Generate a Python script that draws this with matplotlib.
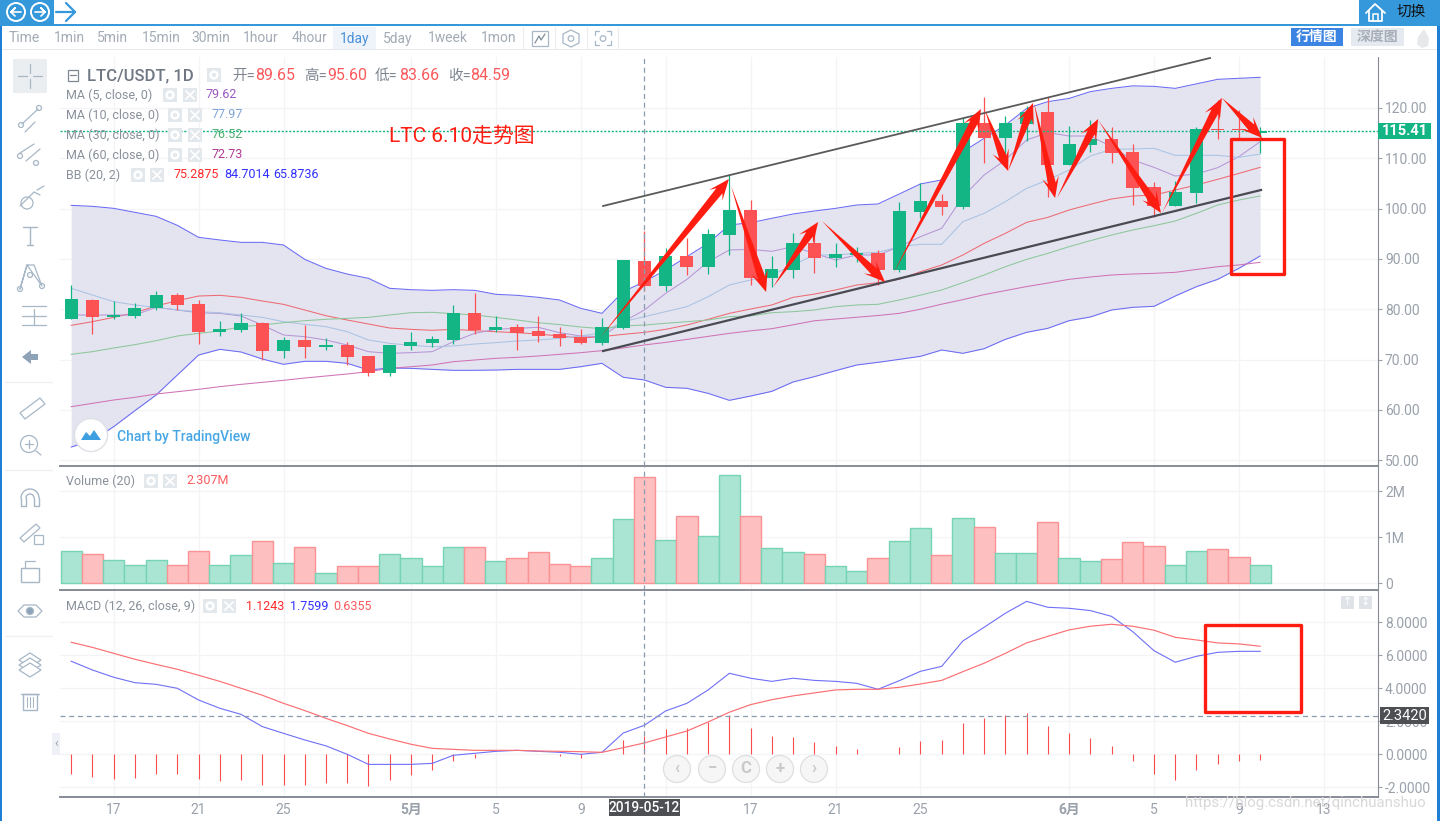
import matplotlib
matplotlib.use("Agg")
import matplotlib.pyplot as plt
import numpy as np
from matplotlib.patches import Circle, Polygon, Rectangle

plt.rcParams['font.family'] = ['Roboto', 'Noto Sans CJK SC', 'DejaVu Sans']

# one candle per day, 2019-04-15 .. 2019-06-10
candle_open = [78.12, 81.83, 78.45, 78.65, 80.24, 82.82, 81.03, 75.47, 75.87, 77.26, 71.69, 73.88, 72.48, 72.88,
               70.7, 67.32, 72.68, 73.28, 73.88, 79.24, 75.87, 76.46, 75.67, 75.07, 74.47, 73.28, 76.27, 89.65,
               84.61, 90.58, 88.39, 94.75, 99.72, 86.2, 87.79, 93.16, 90.18, 90.78, 91.17, 87.79, 99.33, 101.51,
               100.32, 117.02, 114.04, 116.8, 119.2, 108.67, 112.64, 113.84, 111.25, 104.3, 100.5, 103.1, 115.8,
               115.8, 115.1]
candle_close = [82.03, 78.45, 78.85, 80.24, 82.82, 80.84, 75.47, 76.06, 77.26, 71.69, 73.88, 72.48, 72.88, 70.5,
                67.32, 72.88, 73.48, 74.07, 79.24, 75.87, 76.46, 75.27, 74.67, 74.27, 73.28, 76.46, 89.78, 84.59,
                90.58, 88.39, 94.95, 99.72, 86.2, 87.99, 93.16, 90.18, 90.98, 91.17, 87.79, 99.52, 101.51, 100.32,
                117.02, 114.04, 117.02, 119.2, 108.67, 112.84, 113.84, 111.05, 104.1, 100.5, 103.3, 115.8, 115.6,
                115.6, 115.41]
candle_high = [84.81, 82.03, 81.63, 81.23, 83.62, 83.22, 81.83, 77.65, 79.24, 77.46, 74.47, 76.86, 74.27, 73.48,
               70.7, 72.88, 75.47, 74.67, 80.84, 83.22, 78.65, 77.06, 78.65, 76.46, 76.06, 78.25, 89.78, 95.6,
               92.17, 94.16, 95.95, 106.88, 101.71, 90.58, 95.15, 95.75, 93.16, 92.37, 91.77, 101.31, 105.1, 103.0,
               118.0, 122.19, 118.4, 120.3, 122.2, 116.4, 117.6, 116.2, 112.84, 105.3, 105.5, 116.2, 121.6, 119.6,
               116.2]
candle_low = [78.12, 75.07, 78.05, 78.25, 79.84, 79.84, 73.08, 74.67, 75.47, 69.9, 70.3, 70.3, 71.89, 68.91,
              66.72, 66.72, 71.89, 72.48, 73.08, 75.07, 75.47, 71.89, 73.48, 72.68, 73.08, 72.88, 76.13, 83.66,
              83.62, 86.8, 87.0, 90.78, 84.81, 84.42, 86.2, 87.2, 88.39, 89.39, 84.81, 87.4, 98.07, 98.73,
              99.92, 109.07, 108.3, 113.4, 102.4, 108.67, 111.25, 109.07, 100.7, 98.4, 100.5, 101.1, 113.84, 114.0,
              111.1]

ma5 = [78.85, 78.85, 78.85, 78.85, 80.37, 79.84, 79.3, 79.17, 78.65, 76.86, 74.87, 74.54, 73.88, 72.88,
       71.56, 71.23, 71.36, 71.56, 73.55, 75.2, 76.0, 76.2, 76.4, 75.33, 74.67, 74.54, 77.52, 79.84,
       83.16, 85.94, 89.45, 91.77, 91.9, 91.5, 92.43, 91.1, 89.78, 90.78, 90.78, 92.43, 94.42, 96.08,
       102.37, 106.68, 109.66, 113.64, 115.1, 114.43, 114.43, 112.31, 109.66, 108.2, 106.48, 106.88, 108.14,
       110.33, 113.3]
ma10 = [84.15, 82.82, 81.5, 80.84, 80.37, 79.84, 79.5, 79.3, 78.85, 78.38, 77.52, 76.99, 76.53, 75.53,
        73.88, 73.21, 72.82, 72.55, 72.68, 73.08, 73.35, 73.68, 73.88, 74.21, 74.67, 75.33, 77.52, 78.52,
        79.51, 80.5, 82.49, 84.81, 85.81, 86.8, 88.79, 90.78, 90.78, 91.11, 91.31, 92.43, 92.9, 92.9,
        97.4, 99.06, 101.38, 104.03, 105.69, 107.67, 110.46, 111.78, 111.85, 111.98, 110.59, 110.59, 110.59,
        110.19, 110.85]
ma30 = [71.03, 71.56, 72.29, 72.95, 73.74, 74.67, 75.2, 75.67, 76.53, 76.86, 77.32, 77.72, 77.99, 78.18,
        78.38, 78.85, 79.31, 79.38, 79.11, 78.85, 78.38, 77.85, 77.32, 76.93, 76.46, 76.13, 76.66, 76.86,
        77.2, 77.52, 77.85, 78.52, 78.65, 79.31, 79.51, 79.84, 80.5, 80.84, 80.97, 81.83, 82.8, 83.82,
        85.28, 86.8, 88.45, 89.91, 91.1, 92.43, 93.62, 94.75, 95.75, 96.6, 97.53, 99.06, 100.72, 101.71, 102.5]
ma60 = [60.62, 61.28, 61.95, 62.48, 63.14, 63.6, 64.07, 64.6, 65.06, 65.46, 65.86, 66.32, 66.72, 67.12,
        67.58, 68.24, 68.57, 68.91, 69.57, 69.9, 70.23, 70.43, 70.7, 71.03, 71.36, 71.76, 72.3, 72.9,
        73.4, 74.0, 74.6, 75.2, 75.7, 76.13, 76.9, 77.7, 78.05, 78.4, 78.75, 79.18, 80.0, 81.0,
        81.9, 82.9, 83.7, 84.5, 85.2, 85.94, 86.4, 86.8, 87.0, 87.13, 87.33, 87.9, 88.45, 88.8, 89.32]
bb_basis = [76.79, 77.52, 78.38, 79.31, 80.64, 81.7, 82.62, 82.76, 82.36, 81.63, 80.97, 79.84, 78.71, 77.85,
            77.06, 76.26, 76.0, 75.8, 76.0, 75.73, 75.53, 75.33, 75.07, 74.67, 74.27, 74.54, 75.0, 75.4,
            76.0, 76.86, 77.99, 79.18, 80.04, 80.84, 82.36, 83.0, 83.82, 84.81, 85.28, 85.94, 87.46, 88.79,
            90.78, 93.09, 95.08, 97.27, 98.26, 99.72, 100.85, 101.91, 102.5, 102.7, 103.7, 104.69, 105.82, 107.0,
            108.2]
bb_upper = [100.65, 100.45, 100.05, 99.26, 98.46, 96.67, 94.29, 93.76, 93.29, 93.29, 92.76, 89.91, 88.12, 86.99,
            86.14, 84.15, 83.88, 83.75, 83.88, 83.75, 82.96, 82.76, 82.36, 81.83, 80.17, 79.18, 83.49, 85.48,
            87.79, 90.45, 93.1, 96.74, 97.2, 98.07, 98.93, 99.52, 100.05, 100.72, 100.92, 102.9, 104.9, 105.7,
            111.3, 113.97, 116.6, 119.9, 121.26, 121.9, 123.25, 123.9, 124.4, 124.3, 123.9, 124.8, 125.7, 125.9,
            126.1]
bb_lower = [52.6, 53.9, 56.65, 59.83, 62.94, 66.92, 70.89, 72.02, 71.49, 70.1, 69.04, 69.64, 69.64, 69.24,
            67.91, 68.31, 68.24, 68.04, 67.85, 67.85, 67.91, 68.04, 68.04, 68.04, 68.57, 69.24, 66.46, 65.93,
            64.47, 64.27, 63.27, 61.88, 62.74, 63.67, 65.53, 66.59, 67.78, 68.91, 69.44, 70.03, 70.63, 71.89,
            71.23, 72.15, 74.01, 75.4, 76.2, 77.72, 78.45, 79.84, 80.37, 80.57, 82.62, 84.48, 85.94, 88.13, 90.58]

volume_m = [0.70, 0.63, 0.50, 0.40, 0.50, 0.40, 0.71, 0.40, 0.61, 0.91, 0.45, 0.78, 0.22, 0.37, 0.37, 0.63, 0.56,
            0.37, 0.78, 0.78, 0.48, 0.56, 0.67, 0.41, 0.37, 0.56, 1.39, 2.307, 0.95, 1.47, 1.02, 2.36, 1.47, 0.76,
            0.69, 0.63, 0.37, 0.26, 0.54, 0.93, 1.21, 0.61, 1.43, 1.23, 0.65, 0.65, 1.34, 0.56, 0.48, 0.52, 0.89,
            0.82, 0.39, 0.71, 0.74, 0.58, 0.39]

macd_hist = [-1.19, -1.37, -1.49, -1.43, -1.19, -1.19, -1.49, -1.62, -1.56, -1.86, -1.86, -1.86, -1.74, -1.74,
             -1.92, -1.56, -1.25, -0.95, -0.40, -0.22, 0.0, 0.0, 0.0, -0.1, -0.2, 0.02, 0.87, 1.1243, 1.54, 1.6,
             1.98, 2.38, 1.6, 1.11, 1.05, 0.75, 0.5, 0.32, 0.0, 0.44, 0.81, 0.87, 1.9, 2.2, 2.38, 2.5, 1.72, 1.29,
             0.99, 0.51, -0.4, -1.19, -1.56, -0.95, -0.59, -0.4, -0.34]
macd_line = [5.64, 5.11, 4.67, 4.34, 4.24, 4.0, 3.29, 2.79, 2.42, 1.68, 1.27, 0.87, 0.51, 0.0, -0.61, -0.61, -0.61,
             -0.55, -0.06, 0.06, 0.18, 0.24, 0.18, 0.12, 0.0, 0.12, 1.29, 1.76, 2.63, 3.09, 3.9, 4.91, 4.61, 4.42,
             4.61, 4.48, 4.42, 4.3, 3.94, 4.46, 5.03, 5.33, 6.87, 7.7, 8.55, 9.27, 8.91, 8.85, 8.71, 8.36, 7.43,
             6.28, 5.58, 5.94, 6.18, 6.24, 6.24]
macd_signal = [6.79, 6.48, 6.12, 5.76, 5.45, 5.15, 4.79, 4.42, 4.0, 3.58, 3.09, 2.65, 2.18, 1.74, 1.27, 0.93, 0.61,
               0.36, 0.3, 0.24, 0.24, 0.24, 0.2, 0.18, 0.16, 0.12, 0.4, 0.69, 1.05, 1.41, 1.96, 2.55, 3.01, 3.31,
               3.54, 3.72, 3.9, 3.94, 3.94, 4.06, 4.26, 4.48, 5.01, 5.52, 6.12, 6.75, 7.15, 7.54, 7.76, 7.88, 7.76,
               7.52, 7.09, 6.93, 6.75, 6.69, 6.55]

date_ticks = [2, 6, 10, 16, 20, 24, 28, 32, 36, 40, 47, 51, 55, 59]
date_labels = ['17', '21', '25', '5月', '5', '9', '', '17', '21', '25', '6月', '5', '9', '13']
price_ticks = [50, 60, 70, 80, 90, 100, 110, 120]
volume_ticks = [0, 1, 2]
volume_labels = ['0', '1M', '2M']
macd_ticks = [-2, 0, 2, 4, 6, 8]
last_price = 115.41
crosshair_day = 27
crosshair_macd = 2.342

# red arrows (day, price) drawn on the price pane
arrow_from_day = [24.9, 31.08, 33.06, 35.36, 38.71, 43.04, 44.13, 45.35, 46.43, 48.37, 51.38, 54.2]
arrow_from_price = [74.27, 104.49, 84.41, 97.53, 87.0, 119.6, 107.47, 120.99, 102.1, 117.61, 99.13, 121.99]
arrow_to_day = [30.98, 32.73, 35.18, 38.33, 42.85, 44.13, 45.3, 46.34, 48.37, 51.33, 54.2, 56.09]
arrow_to_price = [105.88, 83.42, 97.34, 85.41, 119.8, 107.47, 120.99, 102.1, 117.81, 99.13, 121.99, 114.04]

GREEN = '#14b585'
RED = '#fc5254'
GREY = '#9aa1ab'
ICON = '#a7b7c6'
BLUE = '#3498db'

days = np.arange(len(candle_open))
W, H = 1440, 821
fig = plt.figure(figsize=(14.4, 8.21), dpi=100, facecolor='white')


def add_pane(top, bottom, ylim):
    ax = fig.add_axes([60 / W, 1 - bottom / H, (1378 - 60) / W, (bottom - top) / H])
    ax.set_xlim(-0.5276, 61.55)
    ax.set_ylim(*ylim)
    ax.yaxis.tick_right()
    ax.set_xticks(date_ticks)
    ax.tick_params(axis='both', colors=GREY, labelsize=10, length=3, width=0.8, pad=2)
    ax.tick_params(axis='x', length=0, labelbottom=False)
    ax.grid(True, color='#f4f4f6', lw=0.9)
    ax.set_axisbelow(True)
    for s in ['left', 'top']:
        ax.spines[s].set_visible(False)
    ax.spines['right'].set_color('#868b96')
    ax.spines['bottom'].set_color('#868b96')
    ax.spines['bottom'].set_linewidth(1.4)
    return ax


ax_p = add_pane(51, 466, (48.83, 131.33))
ax_v = add_pane(467, 590, (-0.146, 2.528))
ax_m = add_pane(591, 797, (-2.588, 9.897))

# price pane
ax_p.set_yticks(price_ticks)
ax_p.set_yticklabels(['%.2f' % p for p in price_ticks])
ax_p.fill_between(days, bb_lower, bb_upper, color='#e4e4f0', lw=0, zorder=1)
ax_p.plot(days, bb_upper, color='#6a6af5', lw=0.75, zorder=2)
ax_p.plot(days, bb_lower, color='#6a6af5', lw=0.75, zorder=2)
ax_p.plot(days, bb_basis, color='#ee6a72', lw=0.75, zorder=2)
ax_p.plot(days, ma5, color='#b596d6', lw=0.75, zorder=2)
ax_p.plot(days, ma10, color='#a9c3e3', lw=0.75, zorder=2)
ax_p.plot(days, ma30, color='#8cc79a', lw=0.75, zorder=2)
ax_p.plot(days, ma60, color='#cf73b5', lw=0.75, zorder=2)

candle_color = [GREEN if c >= o else RED for o, c in zip(candle_open, candle_close)]
candle_color[54] = RED
candle_color[55] = RED
candle_bottom = [min(o, c) for o, c in zip(candle_open, candle_close)]
candle_height = [max(abs(o - c), 0.25) for o, c in zip(candle_open, candle_close)]
ax_p.vlines(days, candle_low, candle_high, colors=candle_color, lw=0.9, zorder=3)
ax_p.bar(days, candle_height, bottom=candle_bottom, width=0.62, color=candle_color, lw=0, zorder=3)

ax_p.axhline(last_price, color=GREEN, lw=1, ls=(0, (1.5, 1.2)), zorder=4)

# trend lines
ax_p.plot([25.05, 53.64], [100.52, 129.94], color='#5a5a5a', lw=1.3, zorder=5)
ax_p.plot([25.05, 56.04], [71.69, 103.7], color='#4a4a52', lw=1.6, zorder=5)

# volume pane
ax_v.set_yticks(volume_ticks)
ax_v.set_yticklabels(volume_labels)
vol_color = ['#aae5d3' if c == GREEN else '#fdbfc0' for c in candle_color]
vol_edge = ['#76d3b4' if c == GREEN else '#fb9395' for c in candle_color]
ax_v.bar(days, volume_m, width=1.0, color=vol_color, edgecolor=vol_edge, lw=1, zorder=2)

# macd pane
ax_m.set_yticks(macd_ticks)
ax_m.set_yticklabels(['%.4f' % t for t in macd_ticks])
ax_m.vlines(days, 0, macd_hist, colors='#fb4b4e', lw=0.8, zorder=2)
ax_m.plot(days, macd_line, color='#6f6ff7', lw=0.8, zorder=3)
ax_m.plot(days, macd_signal, color='#fb6f73', lw=0.85, zorder=3)
ax_m.axhline(crosshair_macd, color='#8a9bb0', lw=0.9, ls=(0, (4, 3)), zorder=4)

for ax in [ax_p, ax_v, ax_m]:
    ax.axvline(crosshair_day, color='#8a9bb0', lw=0.9, ls=(0, (4, 3)), zorder=4)

ax_m.set_xticklabels(date_labels)
ax_m.tick_params(axis='x', labelbottom=True, pad=4, labelsize=10)
for lab in ax_m.get_xticklabels():
    if '月' in lab.get_text():
        lab.set_fontweight('bold')


# arrows get their shape in pixels so the head keeps its look
def wedge_arrow(ax, d0, p0, d1, p1, tail=8.0, head=21.0, barb=8.5):
    a = ax.transData.transform((d0, p0))
    b = ax.transData.transform((d1, p1))
    u = (b - a) / np.hypot(*(b - a))
    n = np.array([-u[1], u[0]])
    neck = b - u * head * 0.72
    back = b - u * head
    pts = [a, neck + n * tail / 2, back + n * barb, b, back - n * barb, neck - n * tail / 2]
    ax.add_patch(Polygon(ax.transData.inverted().transform(pts), closed=True, fc='#ff1d12', ec='none', zorder=6))


for i in range(len(arrow_from_day)):
    wedge_arrow(ax_p, arrow_from_day[i], arrow_from_price[i], arrow_to_day[i], arrow_to_price[i])

# everything that is page furniture goes on a pixel overlay
ov = fig.add_axes([0, 0, 1, 1], zorder=20)
ov.set_xlim(0, W)
ov.set_ylim(H, 0)
ov.axis('off')
ov.patch.set_alpha(0)


def box(x0, y0, x1, y1, fc, ec='none', lw=0, **kw):
    ov.add_patch(Rectangle((x0, y0), x1 - x0, y1 - y0, fc=fc, ec=ec, lw=lw, **kw))


def line(xs, ys, color=ICON, lw=0.9):
    ov.plot(xs, ys, color=color, lw=lw, solid_capstyle='round')


def ring(x, y, r, ec=ICON, fc='none', lw=0.9):
    ov.add_patch(Circle((x, y), r, fc=fc, ec=ec, lw=lw))


def label(x, y, s, color=GREY, size=10, ha='left', **kw):
    ov.text(x, y, s, color=color, fontsize=size, ha=ha, va='center', **kw)


def gear(x, y):
    box(x - 7, y - 7, x + 7, y + 7, '#e3e8ed')
    ring(x, y, 3.4, ec='white', lw=1.8)


def cross(x, y):
    box(x - 7, y - 7, x + 7, y + 7, '#e3e8ed')
    line([x - 4, x + 4], [y - 4, y + 4], color='white', lw=1.3)
    line([x - 4, x + 4], [y + 4, y - 4], color='white', lw=1.3)


# the panes start a little below the interval row
box(55, 50.5, 1385, 57, 'white')

# top bar
box(0, 0, 54, 24, BLUE)
box(1359, 0, 1440, 24, BLUE)
box(0, 24, 1440, 26, BLUE)
box(0, 26, 2, 821, '#1d7fd6')
box(1437, 26, 1440, 821, '#1d7fd6')
for cx, sgn in [(16, -1), (40, 1)]:
    ring(cx, 12, 9, ec='white', lw=1.4)
    line([cx - 5, cx + 5], [12, 12], color='white', lw=1.2)
    line([cx + sgn * 5, cx + sgn * 1, cx + sgn * 5], [12, 8, 12], color='white', lw=1.2)
    line([cx + sgn * 5, cx + sgn * 1], [12, 16], color='white', lw=1.2)
line([56, 75], [12, 12], color=BLUE, lw=1.6)
line([66, 75, 66], [3, 12, 21], color=BLUE, lw=1.6)
line([1366, 1375, 1385], [13, 4, 13], color='white', lw=1.3)
line([1369, 1369, 1382, 1382], [11, 21, 21, 11], color='white', lw=1.3)
line([1373, 1373, 1378, 1378], [21, 14, 14, 21], color='white', lw=1.1)
label(1397, 12, '切换', color='#111111', size=10.5)

# interval row
intervals = ['Time', '1min', '5min', '15min', '30min', '1hour', '4hour', '1day', '5day', '1week', '1mon']
interval_x = [24, 69, 113, 161, 211, 261, 309, 355, 398, 448, 499]
box(333, 27, 376, 50, '#eff4fa')
for s, x in zip(intervals, interval_x):
    label(x, 38.5, s, color='#4a90d9' if s == '1day' else '#a3abb5', size=10, ha='center')
box(2, 49.5, 1437, 50.5, '#e6e8ec')
for x in [523, 555, 587, 618]:
    line([x, x], [27, 49], color='#eceef1', lw=0.9)
box(532, 31, 548, 46, 'none', ec=ICON, lw=0.9)
line([535, 539, 541, 545], [43, 36, 40, 34], color='#7d8c9b', lw=0.9)
ov.add_patch(Polygon([(571, 30), (579, 34), (579, 43), (571, 47), (563, 43), (563, 34)], fc='none', ec=ICON, lw=0.9))
ring(571, 38.5, 2.8)
for sx, sy in [(-1, -1), (1, -1), (-1, 1), (1, 1)]:
    line([603 + sx * 8, 603 + sx * 8, 603 + sx * 4], [38.5 + sy * 3, 38.5 + sy * 7, 38.5 + sy * 7])
ring(603, 38.5, 2.8)
box(1291, 28, 1343, 46, '#3b84e3')
label(1317, 37, '行情图', color='white', size=10, ha='center', fontweight='bold')
box(1351, 28, 1404, 46, '#e5e9f0')
label(1377.5, 37, '深度图', color='#a6aeb8', size=10, ha='center', fontweight='bold')
ov.add_patch(Polygon([(1424, 29), (1429, 38), (1428, 46), (1422, 48), (1417, 44), (1418, 37)], fc='#e6e8ea', ec='none'))

# left tools
ov.add_patch(Rectangle((13, 59), 34, 34, fc='#ebeef1', ec='none'))
line([18, 27], [76, 76])
line([33, 42], [76, 76])
line([30, 30], [64, 73])
line([30, 30], [79, 88])
line([22, 38], [124, 109]); ring(21, 125, 2.5); ring(39, 108, 2.5)
line([25, 35], [132, 122])
line([20, 34], [153, 144]); line([26, 40], [161, 149]); ring(20, 156, 2.5); ring(36, 163, 2.5)
line([20, 34, 40], [206, 192, 195]); ring(27, 203, 6); line([37, 44], [190, 186])
line([23, 37], [227, 227], lw=1); line([30, 30], [227, 245], lw=1); line([27, 33], [245, 245], lw=1)
line([20, 27, 42, 34, 27, 20], [289, 265, 286, 265, 265, 289]); ring(30, 275, 2.5); ring(20, 289, 2.5); ring(42, 286, 2.5)
line([22, 46], [306, 306]); line([22, 46], [325, 325]); line([22, 46], [316, 316]); line([34, 34], [309, 324])
ov.add_patch(Polygon([(22, 357), (31, 350), (31, 354), (38, 354), (38, 360), (31, 360), (31, 364)], fc='#8ea3b7', ec='none'))
ov.add_patch(Polygon([(20, 413), (40, 398), (45, 404), (25, 419)], fc='none', ec=ICON, lw=0.9))
ring(29, 444, 8.5); line([25, 33], [444, 444]); line([29, 29], [440, 448]); line([36, 41], [451, 455])
# magnet
t = np.linspace(np.pi, 2 * np.pi, 20)
line(30 + 9 * np.cos(t), 498 + 9 * np.sin(t), lw=1)
line(30 + 4 * np.cos(t), 498 + 4 * np.sin(t), lw=1)
line([21, 21, 26, 26], [498, 506, 506, 498], lw=1)
line([34, 34, 39, 39], [498, 506, 506, 498], lw=1)
ov.add_patch(Polygon([(20, 538), (36, 524), (40, 528), (24, 542)], fc='none', ec=ICON, lw=0.9))
box(34, 535, 43, 544, 'none', ec=ICON, lw=0.9)
box(21, 568, 39, 582, 'none', ec=ICON, lw=1)
line([25, 25, 35], [568, 561, 561])
ov.add_patch(Polygon([(18, 611), (24, 605), (36, 605), (42, 611), (36, 617), (24, 617)], fc='none', ec=ICON, lw=0.9))
ring(30, 611, 3.5, fc='#8ea3b7')
for dy in [0, 5, 10]:
    ov.add_patch(Polygon([(30, 653 + dy), (41, 660 + dy), (30, 667 + dy), (19, 660 + dy)], fc='white', ec=ICON, lw=0.9))
box(23, 694, 37, 710, 'none', ec=ICON, lw=1)
line([21, 39], [694, 694], lw=1)
for x in [27, 30, 33]:
    line([x, x], [697, 707], lw=0.8)
for y in [382, 470, 636]:
    line([5, 52], [y, y], color='#eef0f2', lw=0.9)

# legend block
box(68, 70, 78, 81, 'none', ec='#7f8792', lw=0.9)
line([70, 76], [75.5, 75.5], color='#7f8792', lw=0.9)
label(87, 76, 'LTC/USDT, 1D', color='#6f7783', size=12, fontweight='medium')
gear(214, 75)
ohlc_labels = ['开=', '高=', '低=', '收=']
ohlc_x = [232, 304, 375, 448]
ohlc_vals = ['89.65', '95.60', '83.66', '84.59']
ohlc_val_x = [255, 327, 399, 470]
for t_, x, v, vx in zip(ohlc_labels, ohlc_x, ohlc_vals, ohlc_val_x):
    label(x, 76, t_, color='#7d8590', size=10.5)
    label(vx, 76, v, color='#fb5a5c', size=11.5)

legend_y = [95, 115, 135, 155]
legend_name = ['MA (5, close, 0)', 'MA (10, close, 0)', 'MA (30, close, 0)', 'MA (60, close, 0)']
legend_val = ['79.62', '77.97', '76.52', '72.73']
legend_col = ['#9b59c4', '#7ea4d6', '#4caf6e', '#b03a94']
for i in range(4):
    label(66, legend_y[i], legend_name[i], color='#8a919b', size=9)
    gx = 170 if i == 0 else 175
    gear(gx, legend_y[i])
    cross(gx + 20, legend_y[i])
    label(205 if i == 0 else 211, legend_y[i], legend_val[i], color=legend_col[i], size=9)
label(66, 175, 'BB (20, 2)', color='#8a919b', size=9)
gear(138, 175)
cross(157, 175)
label(173, 175, '75.2875', color='#ff2a2a', size=9)
label(224, 175, '84.7014', color='#3030ff', size=9)
label(273, 175, '65.8736', color='#3030ff', size=9)

label(389, 136, 'LTC 6.10走势图', color='#ff1d12', size=15)

label(66, 481, 'Volume (20)', color='#8a919b', size=9)
gear(151, 481)
cross(170, 481)
label(186, 481, '2.307M', color='#fb5a5c', size=9)

label(66, 606, 'MACD (12, 26, close, 9)', color='#8a919b', size=9)
gear(210, 606)
cross(229, 606)
label(246, 606, '1.1243', color='#ff2a2a', size=9)
label(290, 606, '1.7599', color='#3030ff', size=9)
label(333, 606, '0.6355', color='#fb5a5c', size=9)

# price tags
box(1378, 123, 1431, 139, GREEN)
label(1404.5, 131, '%.2f' % last_price, color='white', size=10.5, ha='center', fontweight='bold')
box(1380, 707, 1429, 724, '#4d4f53')
label(1404.5, 715.5, '2.3420', color='white', size=10.5, ha='center')
box(609, 799, 680, 816, '#4d4f53')
label(644.5, 807.5, '2019-05-12', color='white', size=9.8, ha='center', fontweight='medium')

# tradingview badge
ring(91, 435, 16.5, ec='#dde1e6', fc='white', lw=1)
ov.add_patch(Polygon([(81, 440), (86, 432), (90, 436), (94, 430), (101, 440)], fc='#3d9fe0', ec='none'))
label(117, 437, 'Chart by TradingView', color='#47a6e6', size=10, fontweight='medium')

# red boxes
box(1231, 139, 1284, 274, 'none', ec='#ff1d12', lw=2.4, joinstyle='round')
box(1205, 625, 1301, 712, 'none', ec='#ff1d12', lw=2.4, joinstyle='round')

# bottom nav buttons
nav_x = [677, 712, 746, 780, 814]
nav_s = ['‹', '−', 'C', '+', '›']
for x, s in zip(nav_x, nav_s):
    ring(x, 769, 13.5, ec='#dfdfdf', fc='#f6f6f6', lw=0.9)
    label(x, 768.5, s, color='#c9c9c9', size=12, ha='center', fontweight='bold')
box(52, 733, 60, 755, '#eef1f5')
label(56, 743, '‹', color='#9aa1ab', size=9, ha='center')

box(1341, 596, 1354, 609, '#e0e3e7')
box(1359, 596, 1372, 609, '#e0e3e7')
label(1347.5, 602, '↑', color='white', size=8, ha='center', family=['DejaVu Sans'])
label(1365.5, 602, '↕', color='white', size=8, ha='center', family=['DejaVu Sans'])

label(1185, 803, 'https://blog.csdn.net/qinchuanshuo', color='#d8d8d8', size=10.8)

fig.savefig('out.png', dpi=100, facecolor='white')
